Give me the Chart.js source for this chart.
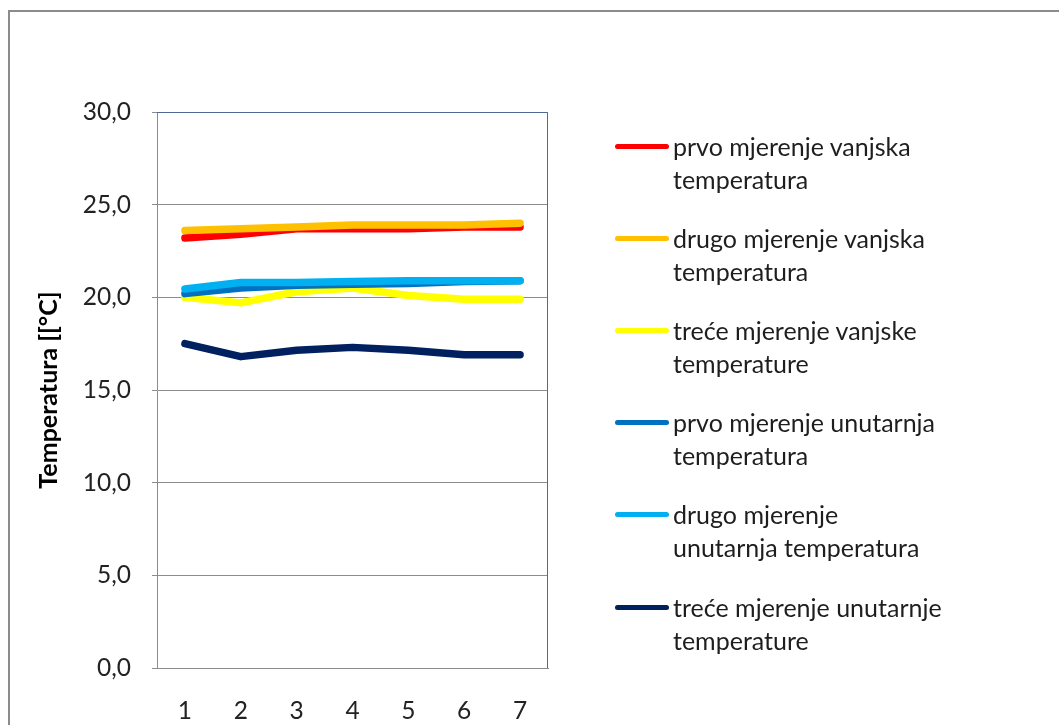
<!DOCTYPE html>
<html>
<head>
<meta charset="utf-8">
<script src="https://cdn.jsdelivr.net/npm/chart.js@4"></script>
<style>
  html, body { margin: 0; padding: 0; background: #fff; overflow: hidden; }
  #wrap { position: relative; width: 1059px; height: 725px; }
  #frame { position: absolute; left: 8px; top: 10px; width: 1100px; height: 800px; border: 2px solid #8c8c8c; box-sizing: border-box; }
  #chart { position: absolute; left: 0; top: 0; }
  #legend { position: absolute; left: 615px; top: 0; font-family: Lato, "Open Sans", sans-serif; font-size: 25px; color: #1e1e1e; }
  .item { position: absolute; left: 0; white-space: nowrap; }
  .swatch { position: absolute; left: 0; width: 54px; height: 5px; border-radius: 3px; }
  .text { position: absolute; left: 58px; line-height: 33px; }
</style>
</head>
<body>
<div id="wrap">
  <div id="frame"></div>
  <canvas id="chart" width="1059" height="725"></canvas>
  <div id="legend"></div>
</div>
<script>
const CATEGORIES = ["1", "2", "3", "4", "5", "6", "7"];

const SERIES_NAMES = [
    ["prvo mjerenje vanjska", "temperatura"],
    ["drugo mjerenje vanjska", "temperatura"],
    ["treće mjerenje vanjske", "temperature"],
    ["prvo mjerenje unutarnja", "temperatura"],
    ["drugo mjerenje", "unutarnja temperatura"],
    ["treće mjerenje unutarnje", "temperature"],
];
const SERIES_COLORS = ["#ff0000", "#ffc000", "#ffff00", "#0070c0", "#00b0f0", "#002060"];

const prvoVanjska = [23.2, 23.4, 23.7, 23.7, 23.7, 23.8, 23.8];
const drugoVanjska = [23.6, 23.7, 23.8, 23.9, 23.9, 23.9, 24.0];
const treceVanjska = [20.0, 19.7, 20.3, 20.5, 20.1, 19.9, 19.9];
const prvoUnutarnja = [20.2, 20.5, 20.65, 20.7, 20.75, 20.85, 20.9];
const drugoUnutarnja = [20.45, 20.8, 20.8, 20.85, 20.9, 20.9, 20.9];
const treceUnutarnja = [17.5, 16.8, 17.15, 17.3, 17.15, 16.9, 16.9];
const SERIES_VALUES = [prvoVanjska, drugoVanjska, treceVanjska, prvoUnutarnja, drugoUnutarnja, treceUnutarnja];

const Y_MIN = 0, Y_MAX = 30, Y_STEP = 5;
const Y_TITLE = "Temperatura [[°C]";

const FONT = "Lato, 'Open Sans', sans-serif";

// gornji i desni rub podrucja crtanja
const plotBorder = {
    id: "plotBorder",
    afterDraw(chart) {
        const { ctx, chartArea: a } = chart;
        ctx.save();
        ctx.strokeStyle = "#4f6a94";
        ctx.lineWidth = 1;
        ctx.beginPath();
        ctx.moveTo(a.left, a.top + 0.5);
        ctx.lineTo(a.right - 0.5, a.top + 0.5);
        ctx.lineTo(a.right - 0.5, a.bottom);
        ctx.stroke();
        ctx.restore();
    }
};

const n = SERIES_VALUES.length;
const datasets = SERIES_VALUES.map((vals, i) => ({
    label: SERIES_NAMES[i].join(" "),
    data: vals,
    borderColor: SERIES_COLORS[i],
    backgroundColor: SERIES_COLORS[i],
    borderWidth: 7.5,
    borderCapStyle: "round",
    borderJoinStyle: "round",
    pointRadius: 0,
    tension: 0,
    order: n - i,
}));

const chart = new Chart(document.getElementById("chart"), {
    type: "line",
    data: { labels: CATEGORIES, datasets },
    options: {
        responsive: false,
        animation: false,
        devicePixelRatio: 1,
        layout: { padding: { left: 0, right: 511, top: 112, bottom: 0 } },
        plugins: { legend: { display: false }, tooltip: { enabled: false } },
        scales: {
            x: {
                offset: true,
                grid: { display: false, drawTicks: false },
                border: { display: true, color: "#8c8c8c", width: 1 },
                ticks: { padding: 28, color: "#222", font: { family: FONT, size: 24.5 } },
                afterFit(s) { s.height = 57; },
            },
            y: {
                min: Y_MIN, max: Y_MAX,
                grid: { color: "#8c8c8c", lineWidth: 1, tickLength: 5, drawTicks: true },
                border: { display: true, color: "#8c8c8c", width: 1 },
                ticks: {
                    stepSize: Y_STEP, padding: 21, color: "#222",
                    font: { family: FONT, size: 24.5 },
                    callback: v => v.toFixed(1).replace(".", ","),
                },
                title: {
                    display: true, text: Y_TITLE, color: "#000",
                    font: { family: FONT, size: 25, weight: "bold" },
                    padding: { top: 34, bottom: 0 },
                },
                afterFit(s) { s.width = 157; },
            },
        },
    },
    plugins: [plotBorder],
});

// legenda iz skupova podataka
const legendEl = document.getElementById("legend");
chart.data.datasets.forEach((ds, i) => {
    const y = 146 + i * 92.2;
    const item = document.createElement("div");
    item.className = "item";
    item.style.top = y + "px";
    const sw = document.createElement("div");
    sw.className = "swatch";
    sw.style.background = ds.borderColor;
    sw.style.top = "-2.5px";
    const tx = document.createElement("div");
    tx.className = "text";
    tx.style.top = "-16.5px";
    tx.innerHTML = SERIES_NAMES[i].join("<br>");
    item.appendChild(sw);
    item.appendChild(tx);
    legendEl.appendChild(item);
});
</script>
</body>
</html>
